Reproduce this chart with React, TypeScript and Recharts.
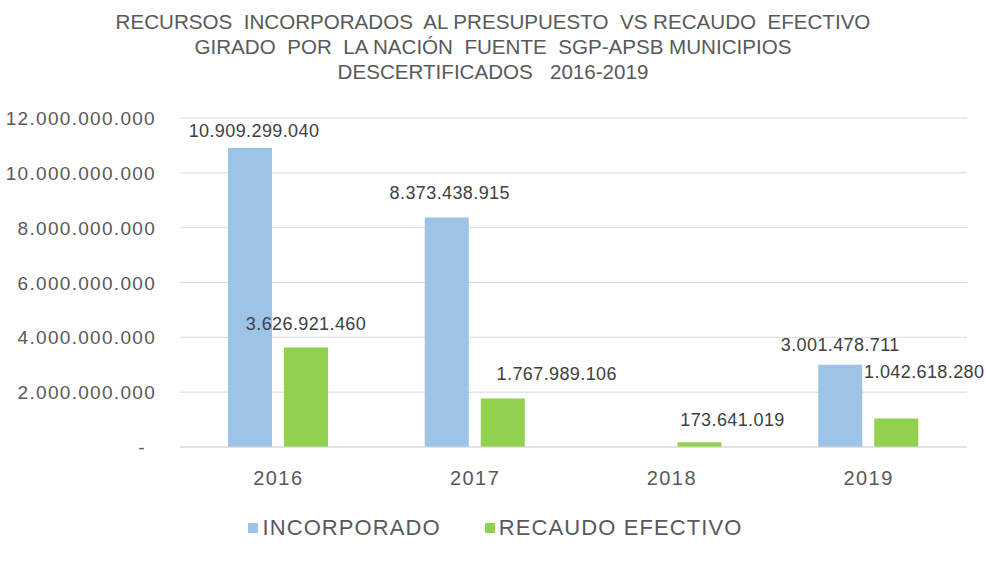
import React from 'react';
import { BarChart, Bar, XAxis, YAxis, CartesianGrid, Legend, LabelList } from 'recharts';

const years = ['2016', '2017', '2018', '2019'];
const incorporado = [10909299040, 8373438915, null, 3001478711];
const recaudoEfectivo = [3626921460, 1767989106, 173641019, 1042618280];
const yTicks = [0, 2000000000, 4000000000, 6000000000, 8000000000, 10000000000, 12000000000];

const titleLines = [
  'RECURSOS  INCORPORADOS  AL PRESUPUESTO  VS RECAUDO  EFECTIVO',
  'GIRADO  POR  LA NACIÓN  FUENTE  SGP-APSB MUNICIPIOS',
  'DESCERTIFICADOS   2016-2019',
];

// label nudges (Excel moved a few labels by hand)
const incNudgeX = [4, 3, 0, 42];
const incNudgeY = [3, -4, 0, 3];
const recNudgeX = [0, 54, 33, 28];
const recNudgeY = [-4, -5, -2, -26];

const BLUE = '#9DC3E6';
const GREEN = '#92D050';
const TEXT = '#595959';
const FONT = '"Liberation Sans", Arial, sans-serif';

const data = years.map((year, i) => ({
  year,
  INCORPORADO: incorporado[i],
  'RECAUDO EFECTIVO': recaudoEfectivo[i],
}));

const fmt = (v: number) => String(Math.round(v)).replace(/\B(?=(\d{3})+(?!\d))/g, '.');

const YTick = (props: any) => {
  const { x, y, payload } = props;
  const v = payload.value;
  return (
    <text
      x={v === 0 ? x - 26 : x - 16}
      y={y}
      dy={7}
      textAnchor="end"
      fill={TEXT}
      fontSize={19}
      letterSpacing={1.3}
      fontFamily={FONT}
    >
      {v === 0 ? '-' : fmt(v)}
    </text>
  );
};

const makeLabel = (nx: number[], ny: number[]) => (props: any) => {
  const { x, y, width, value, index } = props;
  if (value == null) return null;
  return (
    <text
      x={x + width / 2 + nx[index]}
      y={y - 20 + ny[index]}
      dy={6}
      textAnchor="middle"
      fill="#404040"
      fontSize={18}
      letterSpacing={0.4}
      fontFamily={FONT}
    >
      {fmt(value)}
    </text>
  );
};

const LegendContent = () => (
  <div style={{ display: 'flex', justifyContent: 'center', gap: 44, fontFamily: FONT, fontSize: 22, letterSpacing: 1.1, color: TEXT, marginLeft: 24 }}>
    {[['INCORPORADO', BLUE], ['RECAUDO EFECTIVO', GREEN]].map(([name, color]) => (
      <span key={name} style={{ display: 'flex', alignItems: 'center' }}>
        <span style={{ width: 10, height: 10, background: color, marginRight: 4, display: 'inline-block' }} />
        {name}
      </span>
    ))}
  </div>
);

export default function App() {
  return (
    <div style={{ position: 'absolute', left: 0, top: 0, width: 986, height: 561, background: '#fff' }}>
      <div
        style={{
          position: 'absolute',
          top: 9,
          left: 0,
          width: 986,
          textAlign: 'center',
          fontFamily: FONT,
          fontSize: 21,
          lineHeight: '25px',
          color: TEXT,
          whiteSpace: 'pre',
          transform: 'scaleX(0.98)',
        }}
      >
        {titleLines.map((l) => (
          <div key={l}>{l}</div>
        ))}
      </div>
      <BarChart
        width={986}
        height={561}
        data={data}
        margin={{ top: 118, right: 19, bottom: 0, left: 0 }}
        barCategoryGap="24.6%"
        barGap={12}
        style={{ position: 'absolute', left: 0, top: 0 }}
      >
        <CartesianGrid vertical={false} stroke="#d9d9d9" />
        <XAxis
          dataKey="year"
          axisLine={{ stroke: '#d9d9d9' }}
          tickLine={false}
          height={40}
          tick={{ fill: TEXT, fontSize: 20, fontFamily: FONT, letterSpacing: 1.5 } as any}
          tickMargin={18}
        />
        <YAxis
          width={180}
          domain={[0, 12000000000]}
          ticks={yTicks}
          axisLine={false}
          tickLine={false}
          tick={<YTick />}
          interval={0}
        />
        <Legend verticalAlign="bottom" height={74} content={<LegendContent />} wrapperStyle={{ top: 515 }} />
        <Bar dataKey="INCORPORADO" fill={BLUE} barSize={44} isAnimationActive={false}>
          <LabelList dataKey="INCORPORADO" content={makeLabel(incNudgeX, incNudgeY)} />
        </Bar>
        <Bar dataKey="RECAUDO EFECTIVO" fill={GREEN} barSize={44} isAnimationActive={false}>
          <LabelList dataKey="RECAUDO EFECTIVO" content={makeLabel(recNudgeX, recNudgeY)} />
        </Bar>
      </BarChart>
    </div>
  );
}
